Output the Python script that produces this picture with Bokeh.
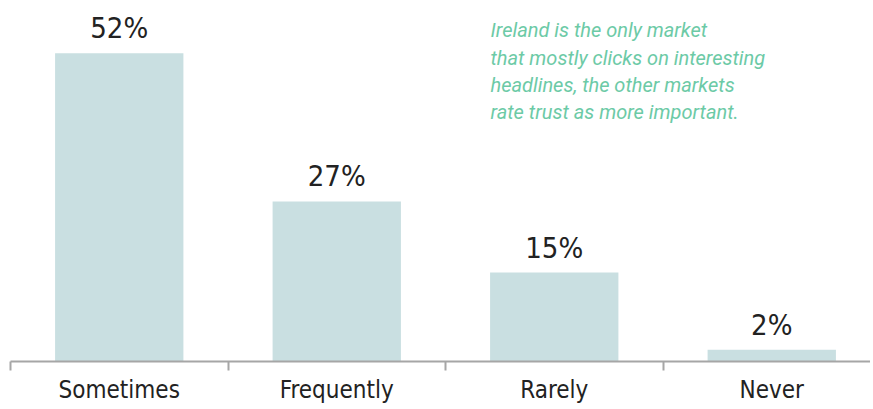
from bokeh.plotting import figure
from bokeh.models import Range1d, FixedTicker, Label, ColumnDataSource
from bokeh.embed import file_html
from bokeh.resources import INLINE
from bokeh.core.properties import value

categories = ["Sometimes", "Frequently", "Rarely", "Never"]
shares = [52, 27, 15, 2]
share_labels = ["52%", "27%", "15%", "2%"]
note_lines = [
    "Ireland is the only market",
    "that mostly clicks on interesting",
    "headlines, the other markets",
    "rate trust as more important.",
]

FONT = "DejaVu Sans Condensed"
NOTE_FONT = "Roboto"
centers = [i + 0.5 for i in range(len(categories))]
src = ColumnDataSource(dict(x=centers, top=shares, lab=share_labels))

p = figure(width=870, height=406, output_backend="svg", toolbar_location=None,
           x_range=Range1d(0, 3.954), y_range=Range1d(0, 60.9),
           min_border_left=10, min_border_right=0, min_border_top=0, min_border_bottom=44)
p.outline_line_color = None
p.grid.grid_line_color = None
p.yaxis.visible = False

p.vbar(x="x", top="top", width=0.59, bottom=0, source=src,
       fill_color="#c9dfe1", line_color=None)
p.text(x="x", y="top", text="lab", source=src, text_align="center",
       text_baseline="alphabetic", y_offset=-25, text_font=value(FONT),
       text_font_size="29px", text_color="#222222")

ax = p.xaxis[0]
ax.ticker = FixedTicker(ticks=centers, minor_ticks=[0, 1, 2, 3])
ax.major_label_overrides = {c: n for c, n in zip(centers, categories)}
ax.major_tick_line_color = None
ax.major_tick_out = 0
ax.major_tick_in = 0
ax.minor_tick_line_color = "#a6a6a6"
ax.minor_tick_line_width = 2
ax.minor_tick_in = 0
ax.minor_tick_out = 9
ax.axis_line_color = "#a6a6a6"
ax.axis_line_width = 2
ax.major_label_text_font = FONT
ax.major_label_text_font_size = "24px"
ax.major_label_text_color = "#222222"
ax.major_label_standoff = 5

note_y = [332, 304, 277, 250]
for line, ny in zip(note_lines, note_y):
    p.add_layout(Label(x=480, y=ny, x_units="screen", y_units="screen",
                       text=line, text_font=NOTE_FONT, text_font_style="italic",
                       text_font_size="20px", text_color="#6ccaa6",
                       text_baseline="middle"))

open("out.html", "w").write(file_html(p, INLINE))
